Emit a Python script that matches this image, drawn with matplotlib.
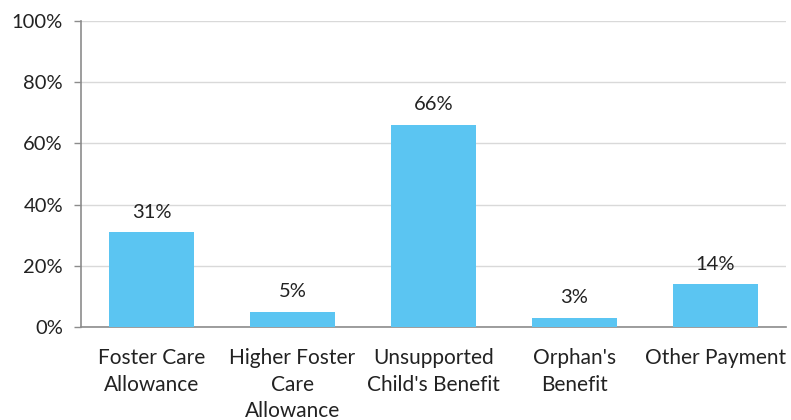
import matplotlib
matplotlib.use("Agg")
import matplotlib.pyplot as plt
from matplotlib.ticker import FuncFormatter

categories = ["Foster Care\nAllowance", "Higher Foster\nCare\nAllowance",
              "Unsupported\nChild's Benefit", "Orphan's\nBenefit", "Other Payment"]
values = [31, 5, 66, 3, 14]
y_ticks = [0, 20, 40, 60, 80, 100]

plt.rcParams['font.family'] = ['Lato', 'DejaVu Sans']

fig = plt.figure(figsize=(7.91, 4.20), dpi=100)
ax = fig.add_axes([0.1024, 0.2214, 0.8913, 0.7286])

x = list(range(len(categories)))
bars = ax.bar(x, values, width=0.6, color="#5BC5F2", zorder=3)
for xi, v in zip(x, values):
    ax.text(xi, v + 3.8, f"{v}%", ha="center", va="bottom", fontsize=14.5, color="#222222")

ax.set_xlim(-0.5, len(categories) - 0.5)
ax.set_ylim(0, 100)
ax.set_yticks(y_ticks)
ax.yaxis.set_major_formatter(FuncFormatter(lambda v, p: f"{int(v)}%"))
ax.set_xticks(x)
ax.set_xticklabels(categories, fontsize=15, color="#222222", linespacing=1.42)
ax.tick_params(axis="x", length=0, pad=15)
ax.tick_params(axis="y", length=5, width=1, color="#8c8c8c", labelsize=14.5,
               labelcolor="#222222", pad=8)
ax.grid(axis="y", color="#d9d9d9", linewidth=1, zorder=0)
for s in ["top", "right"]:
    ax.spines[s].set_visible(False)
for s in ["left", "bottom"]:
    ax.spines[s].set_color("#8c8c8c")
    ax.spines[s].set_linewidth(1.2)

fig.savefig("out.png", dpi=100)
